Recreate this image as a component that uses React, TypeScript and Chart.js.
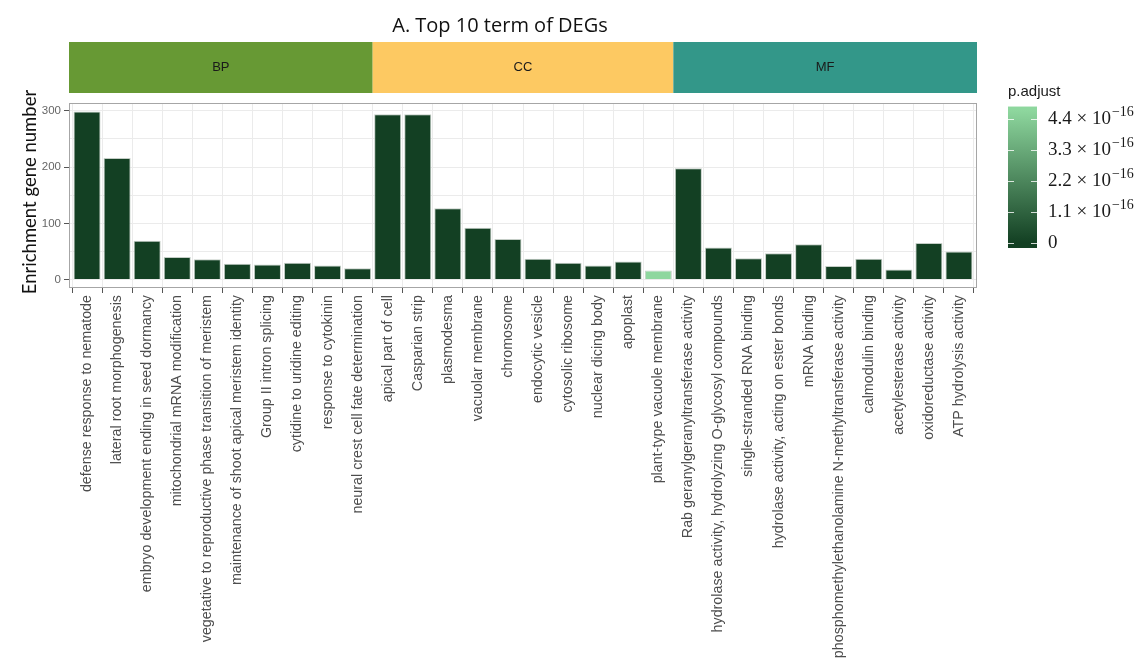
import React, { useEffect, useRef } from "react";
import { Chart, registerables } from "chart.js";

Chart.register(...registerables);

// ---------- data ----------
const terms: string[] = [
  "defense response to nematode",
  "lateral root morphogenesis",
  "embryo development ending in seed dormancy",
  "mitochondrial mRNA modification",
  "vegetative to reproductive phase transition of meristem",
  "maintenance of shoot apical meristem identity",
  "Group II intron splicing",
  "cytidine to uridine editing",
  "response to cytokinin",
  "neural crest cell fate determination",
  "apical part of cell",
  "Casparian strip",
  "plasmodesma",
  "vacuolar membrane",
  "chromosome",
  "endocytic vesicle",
  "cytosolic ribosome",
  "nuclear dicing body",
  "apoplast",
  "plant-type vacuole membrane",
  "Rab geranylgeranyltransferase activity",
  "hydrolase activity, hydrolyzing O-glycosyl compounds",
  "single-stranded RNA binding",
  "hydrolase activity, acting on ester bonds",
  "mRNA binding",
  "phosphomethylethanolamine N-methyltransferase activity",
  "calmodulin binding",
  "acetylesterase activity",
  "oxidoreductase activity",
  "ATP hydrolysis activity",
];

const geneCounts: number[] = [
  299, 216, 69, 40, 36, 28, 27, 30, 25, 20,
  294, 294, 127, 92, 72, 37, 30, 25, 32, 16,
  198, 57, 38, 47, 63, 24, 37, 18, 65, 50,
];

// p.adjust in units of 1e-16
const pAdjust: number[] = [
  0, 0, 0, 0, 0, 0, 0, 0, 0, 0,
  0, 0, 0, 0, 0, 0, 0, 0, 0, 4.7,
  0, 0, 0, 0, 0, 0, 0, 0, 0, 0,
];

const ontology: string[] = [
  "BP", "BP", "BP", "BP", "BP", "BP", "BP", "BP", "BP", "BP",
  "CC", "CC", "CC", "CC", "CC", "CC", "CC", "CC", "CC", "CC",
  "MF", "MF", "MF", "MF", "MF", "MF", "MF", "MF", "MF", "MF",
];

const groupNames: string[] = ["BP", "CC", "MF"];
const groupColors: string[] = ["#679934", "#fdc962", "#339789"];

const yTicks: number[] = [0, 50, 100, 150, 200, 250, 300];
const legendTicks: number[] = [0, 1.1, 2.2, 3.3, 4.4];

const lowColor = [19, 64, 35];
const highColor = [142, 215, 158];

const pMax = Math.max(...pAdjust);

function colorFor(p: number): string {
  const t = pMax > 0 ? p / pMax : 0;
  const c = lowColor.map((l, i) => Math.round(l + (highColor[i] - l) * t));
  return `rgb(${c[0]},${c[1]},${c[2]})`;
}

// ---------- layout constants ----------
const W = 1144;
const H = 658;
const PANEL_LEFT = 69;
const PANEL_TOP = 103;
const PANEL_RIGHT = 977;
const PANEL_BOTTOM = 288;
const STRIP_TOP = 42;
const STRIP_BOTTOM = 93;

const decor = {
  id: "decor",
  beforeDraw(chart: any) {
    const ctx = chart.ctx;
    ctx.save();
    ctx.fillStyle = "#ffffff";
    ctx.fillRect(0, 0, chart.width, chart.height);
    ctx.restore();
  },
  afterDraw(chart: any) {
    const { ctx, chartArea } = chart;
    const x = chart.scales.x;
    ctx.save();

    // panel border
    ctx.strokeStyle = "#a6a6a6";
    ctx.lineWidth = 1;
    ctx.strokeRect(
      chartArea.left + 0.5,
      chartArea.top + 0.5,
      chartArea.right - chartArea.left - 1,
      chartArea.bottom - chartArea.top - 1
    );

    // title
    ctx.fillStyle = "#111111";
    ctx.font = "20px 'Open Sans', sans-serif";
    ctx.textAlign = "center";
    ctx.textBaseline = "middle";
    ctx.fillText("A. Top 10 term of DEGs", 500, 26);

    // strips
    groupNames.forEach((g, gi) => {
      const first = ontology.indexOf(g);
      const last = ontology.lastIndexOf(g);
      const l = first === 0 ? chartArea.left : x.getPixelForValue(first - 0.5);
      const r = last === ontology.length - 1 ? chartArea.right : x.getPixelForValue(last + 0.5);
      ctx.fillStyle = groupColors[gi];
      ctx.fillRect(l, STRIP_TOP, r - l, STRIP_BOTTOM - STRIP_TOP);
      ctx.fillStyle = "#1a1a1a";
      ctx.font = "13px 'Liberation Sans', Arial, sans-serif";
      ctx.textAlign = "center";
      ctx.textBaseline = "middle";
      ctx.fillText(g, (l + r) / 2, (STRIP_TOP + STRIP_BOTTOM) / 2);
    });

    // y-axis title
    ctx.save();
    ctx.translate(30, 192);
    ctx.rotate(-Math.PI / 2);
    ctx.fillStyle = "#111111";
    ctx.font = "18.5px Lato, sans-serif";
    ctx.textAlign = "center";
    ctx.textBaseline = "middle";
    ctx.fillText("Enrichment gene number", 0, 0);
    ctx.restore();

    // legend
    const lgLeft = 1008;
    const lgRight = 1037;
    const yOf = (v: number) => 242.5 - (v / 4.4) * 124;
    const barTop = yOf(pMax) - 3.5;
    const barBottom = yOf(0) + 5.5;
    ctx.fillStyle = "#1a1a1a";
    ctx.font = "15px 'Liberation Sans', Arial, sans-serif";
    ctx.textAlign = "left";
    ctx.textBaseline = "middle";
    ctx.fillText("p.adjust", lgLeft, 92);

    const grad = ctx.createLinearGradient(0, yOf(pMax), 0, yOf(0));
    grad.addColorStop(0, colorFor(pMax));
    grad.addColorStop(1, colorFor(0));
    ctx.fillStyle = grad;
    ctx.fillRect(lgLeft, barTop, lgRight - lgLeft, barBottom - barTop);

    legendTicks.forEach((v) => {
      const yy = Math.round(yOf(v)) + 0.5;
      ctx.strokeStyle = "rgba(255,255,255,0.8)";
      ctx.lineWidth = 1;
      ctx.beginPath();
      ctx.moveTo(lgLeft, yy);
      ctx.lineTo(lgLeft + 6, yy);
      ctx.moveTo(lgRight - 6, yy);
      ctx.lineTo(lgRight, yy);
      ctx.stroke();

      ctx.fillStyle = "#1a1a1a";
      ctx.textAlign = "left";
      ctx.textBaseline = "middle";
      ctx.font = "19px 'Liberation Serif', 'Times New Roman', serif";
      if (v === 0) {
        ctx.fillText("0", 1048, yOf(v) + 1);
      } else {
        const main = `${v.toFixed(1)} \u00d7 10`;
        ctx.fillText(main, 1048, yOf(v) + 1);
        const w = ctx.measureText(main).width;
        ctx.font = "14px 'Liberation Serif', 'Times New Roman', serif";
        ctx.fillText("\u221216", 1048 + w + 1, yOf(v) - 6);
      }
    });

    ctx.restore();
  },
};

export default function App() {
  const ref = useRef<HTMLCanvasElement>(null);

  useEffect(() => {
    const canvas = ref.current;
    if (!canvas) return;
    const chart = new Chart(canvas, {
      type: "bar",
      data: {
        datasets: [
          {
            data: geneCounts.map((v, i) => ({ x: i, y: v })),
            backgroundColor: pAdjust.map((p) => colorFor(p)),
            borderColor: "#c4cdc6",
            borderWidth: 1,
            barPercentage: 0.9,
            categoryPercentage: 1,
          },
        ],
      },
      options: {
        responsive: false,
        animation: false,
        devicePixelRatio: 1,
        layout: {
          padding: { top: PANEL_TOP, right: W - PANEL_RIGHT, left: 0, bottom: 0 },
        },
        plugins: {
          legend: { display: false },
          tooltip: { enabled: false },
          title: { display: false },
        },
        scales: {
          x: {
            type: "linear",
            min: -0.6,
            max: terms.length - 1 + 0.6,
            offset: false,
            afterBuildTicks: (s: any) => {
              s.ticks = terms.map((_, i) => ({ value: i }));
            },
            afterFit: (s: any) => {
              s.height = H - PANEL_BOTTOM;
            },
            ticks: {
              autoSkip: false,
              minRotation: 90,
              maxRotation: 90,
              padding: 2,
              color: "#4d4d4d",
              font: { family: "'Liberation Sans', Arial, sans-serif", size: 14.3 },
              callback: (v: any) => terms[v as number] ?? "",
            },
            grid: {
              color: "#ebebeb",
              lineWidth: 1,
              drawTicks: true,
              tickLength: 5,
              tickColor: "#555555",
            },
            border: { display: false },
          },
          y: {
            min: -15,
            max: 314,
            afterBuildTicks: (s: any) => {
              s.ticks = yTicks.map((v) => ({ value: v }));
            },
            afterFit: (s: any) => {
              s.width = PANEL_LEFT;
            },
            ticks: {
              padding: 3,
              color: "#666666",
              font: { family: "'Liberation Sans', Arial, sans-serif", size: 11.5 },
              callback: (v: any) => ((v as number) % 100 === 0 ? String(v) : ""),
            },
            grid: {
              color: "#ebebeb",
              lineWidth: 1,
              tickLength: 5,
              tickColor: (c: any) =>
                c.tick && c.tick.value % 100 === 0 ? "#555555" : "rgba(0,0,0,0)",
            },
            border: { display: false },
          },
        },
      } as any,
      plugins: [decor],
    });
    return () => chart.destroy();
  }, []);

  return (
    <div style={{ position: "absolute", left: 0, top: 0, width: W, height: H }}>
      <canvas ref={ref} width={W} height={H} style={{ display: "block" }} />
    </div>
  );
}
